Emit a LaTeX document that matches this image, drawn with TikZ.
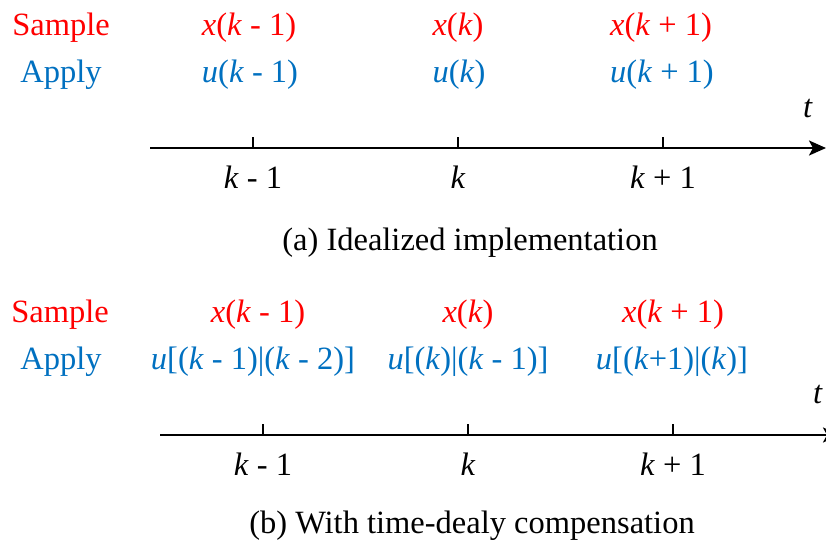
\documentclass[tikz,border=0pt]{standalone}
\usepackage{fontspec}
\setmainfont{Liberation Serif}
\usepackage{tikz}
\usetikzlibrary{arrows.meta,positioning,calc}

\definecolor{samplered}{RGB}{255,0,0}
\definecolor{applyblue}{RGB}{0,112,192}

\newcommand{\kv}{\textit{k}}

\begin{document}
\begin{tikzpicture}[x=0.5pt,y=-0.5pt,
    lbl/.style={anchor=base,inner sep=0pt,font=\fontsize{16.25}{20}\selectfont},
    samplelbl/.style={lbl,text=samplered},
    applylbl/.style={lbl,text=applyblue},
    axisline/.style={line width=1.25pt,-{Stealth[length=8.5pt,width=7.5pt,inset=2pt]}},
    tickmark/.style={line width=1.1pt}]
    \useasboundingbox (0,0) rectangle (826,548);

    % (a) idealized
    \node[samplelbl] (sampleA) at (61,35) {Sample};
    \node[applylbl] (applyA) at (61,82) {Apply};
    \node[samplelbl] (xa1) at (249,35) {\textit{x}(\kv{} - 1)};
    \node[samplelbl] (xa2) at (458,35) {\textit{x}(\kv)};
    \node[samplelbl] (xa3) at (661,35) {\textit{x}(\kv{} + 1)};
    \node[applylbl] (ua1) at (250,82) {\textit{u}(\kv{} - 1)};
    \node[applylbl] (ua2) at (459,82) {\textit{u}(\kv)};
    \node[applylbl] (ua3) at (662,82) {\textit{u}(\kv{} + 1)};

    \coordinate (axAstart) at (150,148);
    \coordinate (axAend) at (826,148);
    \draw[axisline] (axAstart) -- (axAend);
    \node[lbl] (tA) at (808,117) {\textit{t}};
    \foreach \px/\name/\txt in {253/ka1/{\kv{} - 1},458/ka2/{\kv},663/ka3/{\kv{} + 1}} {
        \draw[tickmark] (\px,148) -- (\px,137);
        \node[lbl] (\name) at (\px,188) {\txt};
    }
    \node[lbl] (capA) at (470,250) {(a) Idealized implementation};

    % (b) with compensation
    \node[samplelbl] (sampleB) at (60,322) {Sample};
    \node[applylbl] (applyB) at (61,369) {Apply};
    \node[samplelbl] (xb1) at (258,322) {\textit{x}(\kv{} - 1)};
    \node[samplelbl] (xb2) at (468,322) {\textit{x}(\kv)};
    \node[samplelbl] (xb3) at (673,322) {\textit{x}(\kv{} + 1)};
    \node[applylbl] (ub1) at (253,369) {\textit{u}[(\kv{} - 1)|(\kv{} - 2)]};
    \node[applylbl] (ub2) at (468,369) {\textit{u}[(\kv)|(\kv{} - 1)]};
    \node[applylbl] (ub3) at (672,369) {\textit{u}[(\kv+1)|(\kv)]};

    \coordinate (axBstart) at (160,435);
    \coordinate (axBend) at (840,435);
    \draw[axisline] (axBstart) -- (axBend);
    \node[lbl] (tB) at (818,403) {\textit{t}};
    \foreach \px/\name/\txt in {263/kb1/{\kv{} - 1},468/kb2/{\kv},673/kb3/{\kv{} + 1}} {
        \draw[tickmark] (\px,435) -- (\px,424);
        \node[lbl] (\name) at (\px,475) {\txt};
    }
    \node[lbl] (capB) at (472,533) {(b) With time-dealy compensation};
\end{tikzpicture}
\end{document}
